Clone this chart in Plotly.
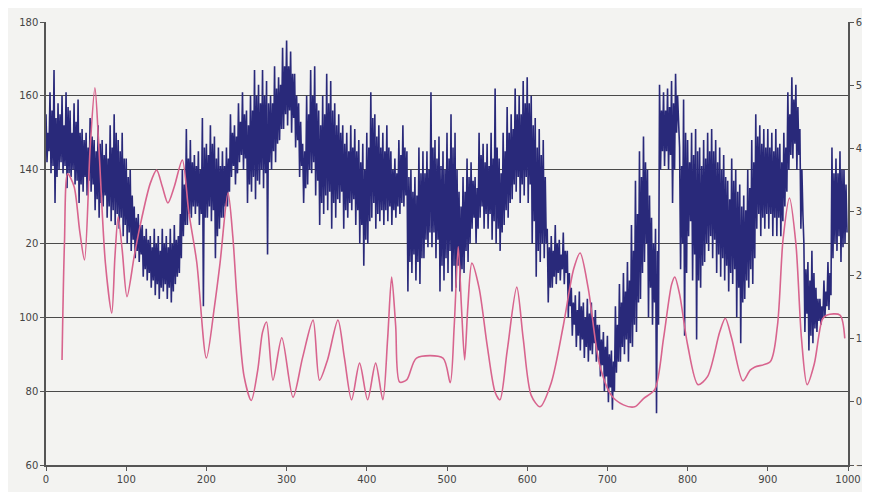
import plotly.graph_objects as go

# Blue series (left axis), four readings per 5-year block:
# blue_high at years 0,5,...; blue_low at +1.25; blue_high_b at +2.5; blue_low_b at +3.75
blue_high = [
    155, 161, 167, 158, 160, 161, 156, 158, 159, 151,
    150, 154, 148, 152, 148, 147, 152, 155, 148, 150,
    143, 140, 130, 128, 125, 124, 122, 124, 122, 124,
    122, 124, 125, 122, 140, 151, 148, 144, 145, 154,
    147, 152, 149, 146, 145, 146, 155, 152, 158, 161,
    156, 160, 167, 163, 167, 164, 160, 168, 165, 173,
    175, 172, 166, 158, 147, 160, 167, 168, 156, 160,
    166, 164, 158, 155, 152, 150, 152, 151, 148, 147,
    150, 161, 155, 152, 150, 152, 145, 143, 148, 152,
    145, 140, 138, 146, 145, 145, 161, 148, 149, 145,
    150, 155, 150, 134, 138, 143, 142, 138, 150, 147,
    147, 150, 162, 143, 150, 157, 155, 162, 160, 164,
    165, 160, 154, 151, 148, 124, 122, 125, 121, 123,
    118, 108, 106, 107, 104, 105, 104, 102, 98, 96,
    95, 91, 103, 109, 112, 115, 125, 137, 145, 149,
    140, 127, 124, 163, 161, 162, 164, 166, 146, 159,
    148, 150, 151, 146, 148, 150, 151, 148, 146, 144,
    137, 143, 140, 136, 133, 140, 148, 155, 152, 151,
    151, 150, 151, 147, 150, 161, 165, 163, 151, 120,
    115, 118, 108, 105, 110, 115, 146, 143, 145, 140,
]
blue_low = [
    142, 139, 131, 140, 139, 135, 138, 136, 131, 134,
    133, 134, 129, 127, 130, 127, 126, 125, 124, 122,
    120, 118, 116, 115, 111, 110, 108, 106, 105, 107,
    105, 104, 109, 112, 122, 125, 127, 128, 125, 103,
    127, 126, 116, 124, 127, 130, 138, 136, 142, 140,
    131, 134, 132, 136, 135, 117, 140, 142, 148, 151,
    152, 150, 146, 138, 131, 136, 139, 133, 125, 128,
    129, 124, 127, 131, 124, 127, 129, 125, 120, 114,
    120, 127, 124, 126, 125, 126, 125, 127, 128, 130,
    107, 112, 110, 109, 116, 119, 119, 116, 107, 110,
    112, 107, 108, 107, 112, 115, 124, 120, 127, 124,
    124, 121, 120, 118, 125, 127, 132, 134, 131, 133,
    131, 120, 111, 115, 116, 104, 108, 109, 110, 109,
    100, 95, 92, 91, 89, 88, 90, 88, 84, 80,
    77, 75, 85, 88, 90, 88, 92, 96, 105, 115,
    100, 98, 74, 140, 141, 140, 131, 150, 113, 95,
    122, 110, 94, 108, 115, 118, 116, 112, 111, 110,
    107, 109, 100, 93, 105, 108, 109, 124, 122, 124,
    124, 122, 122, 122, 130, 140, 143, 140, 124, 96,
    91, 93, 96, 98, 100, 102, 116, 118, 115, 120,
]
blue_high_b = [
    150, 156, 154, 155, 152, 157, 150, 153, 150, 148,
    146, 149, 145, 147, 144, 143, 146, 150, 145, 143,
    138, 133, 127, 125, 122, 121, 119, 120, 118, 120,
    119, 120, 121, 128, 136, 143, 142, 141, 140, 146,
    144, 147, 143, 141, 141, 143, 150, 149, 153, 155,
    152, 156, 160, 158, 160, 158, 158, 162, 163, 168,
    168, 166, 160, 153, 145, 155, 160, 158, 152, 155,
    158, 156, 152, 150, 147, 145, 146, 145, 142, 140,
    146, 154, 149, 146, 145, 146, 140, 139, 144, 146,
    138, 134, 133, 139, 139, 140, 146, 143, 141, 140,
    143, 146, 140, 130, 134, 138, 137, 135, 144, 142,
    141, 143, 146, 139, 145, 150, 151, 155, 155, 158,
    158, 152, 146, 144, 138, 119, 118, 120, 117, 118,
    112, 104, 102, 103, 100, 101, 100, 98, 94, 92,
    90, 88, 98, 104, 107, 110, 118, 128, 138, 142,
    133, 120, 118, 156, 156, 157, 158, 160, 141, 150,
    142, 144, 145, 141, 143, 145, 145, 142, 140, 138,
    132, 137, 134, 130, 129, 135, 142, 149, 147, 146,
    146, 145, 146, 142, 146, 155, 159, 157, 140, 113,
    110, 112, 105, 103, 107, 112, 139, 139, 140, 136,
]
blue_low_b = [
    145, 141, 138, 142, 141, 139, 140, 137, 136, 138,
    137, 136, 132, 131, 133, 130, 129, 128, 127, 125,
    123, 121, 118, 117, 113, 112, 110, 109, 108, 109,
    108, 107, 111, 116, 125, 128, 130, 130, 128, 127,
    130, 129, 122, 127, 130, 134, 141, 139, 144, 143,
    136, 138, 137, 140, 139, 142, 145, 147, 151, 155,
    156, 154, 148, 141, 135, 140, 142, 137, 131, 133,
    134, 131, 132, 134, 129, 131, 132, 129, 125, 121,
    126, 131, 128, 129, 129, 130, 129, 130, 131, 133,
    115, 117, 115, 116, 121, 123, 123, 121, 114, 116,
    118, 114, 114, 113, 118, 120, 127, 124, 130, 128,
    128, 126, 124, 123, 129, 131, 136, 138, 136, 138,
    136, 126, 118, 120, 120, 108, 111, 112, 113, 112,
    103, 98, 95, 94, 92, 91, 93, 91, 87, 84,
    81, 80, 88, 92, 94, 93, 98, 104, 112, 120,
    108, 104, 98, 145, 145, 144, 140, 152, 120, 112,
    126, 117, 110, 114, 120, 122, 121, 117, 116, 114,
    112, 113, 108, 104, 110, 113, 116, 128, 127, 128,
    128, 127, 127, 126, 134, 144, 147, 144, 128, 101,
    95, 97, 99, 100, 103, 106, 120, 122, 119, 123,
]

# Pink series (right axis)
pink_years = [20, 23, 27, 35, 42, 48, 55, 61, 66, 74, 82, 86, 90, 95, 101, 110, 117, 130, 138, 145,
              152, 160, 170, 178, 188, 200, 210, 217, 227, 233, 238, 247, 256, 264, 270, 275,
              283, 294, 308, 320, 333, 341, 351, 364, 372, 381, 391, 401, 411, 420, 426, 431,
              436, 441, 450, 462, 495, 504, 509, 514, 518, 522, 526, 531, 540, 550, 560, 566,
              575, 587, 595, 605, 616, 630, 645, 658, 666, 676, 690, 705, 720, 734, 745, 759,
              770, 780, 784, 790, 800, 813, 825, 840, 847, 855, 869, 878, 884, 903, 912, 919,
              927, 935, 942, 949, 958, 968, 974, 990, 996]
pink_vals = [0.66, 2.5, 3.6, 3.4, 2.7, 2.24, 4.0, 4.96, 4.0, 2.2, 1.40, 2.3, 2.92, 2.4, 1.66, 2.3, 2.76, 3.45, 3.66, 3.4,
             3.14, 3.4, 3.82, 3.0, 2.2, 0.69, 1.5, 2.19, 3.30, 2.6, 1.66, 0.4, 0.02, 0.5, 1.1, 1.26,
             0.34, 1.01, 0.07, 0.7, 1.29, 0.34, 0.66, 1.29, 0.7, 0.03, 0.61, 0.03, 0.61, 0.03, 1.0, 1.97,
             1.2, 0.31, 0.35, 0.69, 0.69, 0.30, 1.2, 2.45, 1.5, 0.66, 1.5, 2.19, 1.8, 0.9, 0.15, 0.03,
             0.8, 1.81, 1.0, 0.1, -0.08, 0.3, 1.2, 2.1, 2.35, 1.8, 0.6, 0.1, -0.05, -0.08, 0.05, 0.19,
             1.0, 1.85, 1.97, 1.7, 0.9, 0.27, 0.4, 1.1, 1.32, 1.0, 0.33, 0.5, 0.55, 0.63, 1.2, 2.56,
             3.22, 2.5, 1.0, 0.27, 0.6, 1.3, 1.37, 1.37, 1.0]

x_ticks = [0, 100, 200, 300, 400, 500, 600, 700, 800, 900, 1000]
left_tickvals = [60, 80, 100, 120, 140, 160, 180]
left_ticktext = ["60", "80", "100", "20", "140", "160", "180"]
right_tickvals = [-1, 0, 1, 2, 3, 4, 5, 6]

blue_x, blue_y = [], []
for i in range(len(blue_high)):
    blue_x += [i * 5, i * 5 + 1.25, i * 5 + 2.5, i * 5 + 3.75]
    blue_y += [blue_high[i], blue_low[i], blue_high_b[i], blue_low_b[i]]

fig = go.Figure()
fig.add_trace(go.Scatter(x=pink_years, y=pink_vals, mode="lines", yaxis="y2",
                         line=dict(color="#d8648e", width=1.6, shape="spline", smoothing=0.8),
                         showlegend=False))
fig.add_trace(go.Scatter(x=blue_x, y=blue_y, mode="lines",
                         line=dict(color="#29297a", width=1.6),
                         showlegend=False))

axis_font = dict(family="DejaVu Sans, Arial, sans-serif", size=10, color="#444444")
# the page body adds an 8px margin, so the figure is sized to fill the rest of the window
fig.update_layout(
    width=862, height=484,
    margin=dict(l=38, r=22, t=14, b=27),
    paper_bgcolor="#f3f3f1", plot_bgcolor="#f3f3f1",
    xaxis=dict(range=[0, 1000], tickvals=x_ticks, showgrid=False, zeroline=False, automargin=False,
               showline=True, linecolor="#555555", linewidth=1.5,
               ticks="outside", ticklen=4, tickcolor="#555555", tickfont=axis_font),
    yaxis=dict(range=[60, 180], tickvals=left_tickvals, ticktext=left_ticktext, automargin=False,
               showgrid=True, gridcolor="#4a4a4a", gridwidth=1.4, zeroline=False,
               showline=True, linecolor="#555555", linewidth=1.5,
               ticks="outside", ticklen=4, tickcolor="#555555", tickfont=axis_font),
    yaxis2=dict(range=[-1, 6], tickvals=right_tickvals, overlaying="y", side="right", automargin=False,
                showgrid=False, zeroline=False, showline=True, linecolor="#555555", linewidth=1.5,
                ticks="outside", ticklen=4, tickcolor="#555555", tickfont=axis_font),
)

fig.write_html("out.html")
